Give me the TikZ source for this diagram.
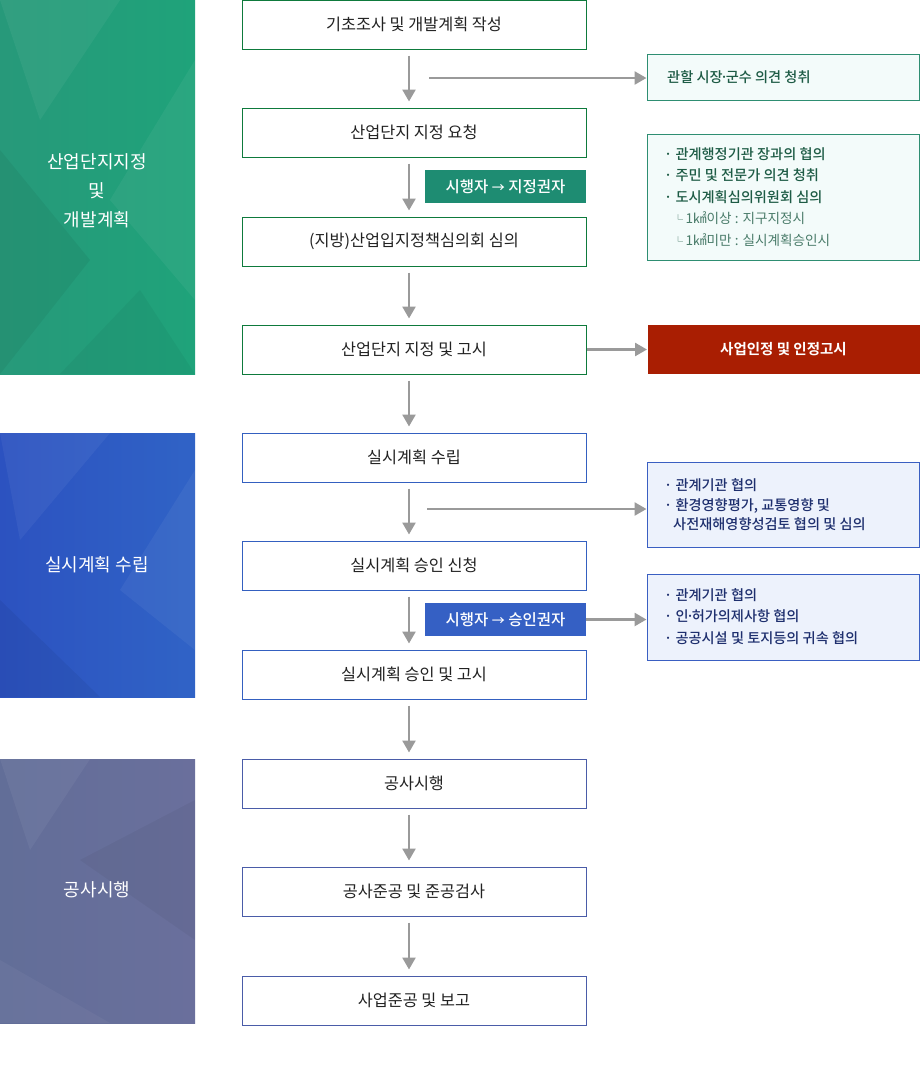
\documentclass[tikz,border=0pt]{standalone}
\usepackage{fontspec}
\setmainfont{Noto Sans CJK KR}[BoldFont={Noto Sans CJK KR Bold}]
\newfontfamily\medfont{Noto Sans CJK KR Medium}
\usetikzlibrary{arrows.meta,positioning}
\definecolor{gpanel}{HTML}{27997A}
\definecolor{gpanelB}{HTML}{1FA37A}
\definecolor{bpanel}{HTML}{3063C6}
\definecolor{bpanelB}{HTML}{2C52C0}
\definecolor{ppanel}{HTML}{6A6F9C}
\definecolor{ppanelB}{HTML}{626E98}
\definecolor{gborder}{HTML}{0E7A3C}
\definecolor{bborder}{HTML}{3460C0}
\definecolor{pborder}{HTML}{4A5CA8}
\definecolor{rgborder}{HTML}{2E8E72}
\definecolor{rgfill}{HTML}{F3FBFA}
\definecolor{rgtext}{HTML}{1D5B45}
\definecolor{rbborder}{HTML}{3A5FC2}
\definecolor{rbfill}{HTML}{EDF2FC}
\definecolor{rbtext}{HTML}{1E2F6E}
\definecolor{redfill}{HTML}{A91E02}
\definecolor{glabel}{HTML}{1E8C72}
\definecolor{blabel}{HTML}{3560C4}
\definecolor{arrgray}{HTML}{9A9A9A}
\definecolor{maintext}{HTML}{222222}
\newcommand{\mdot}{\kern-2.5pt·\kern-2.5pt}
\tikzset{
  mainbox/.style={draw, line width=1pt, fill=white, minimum width=344pt, minimum height=49pt, inner sep=0pt, text=maintext, font=\fontsize{16.3}{19}\selectfont},
  rbox/.style={line width=1pt, minimum width=272pt, inner sep=0pt},
  rgbox/.style={rbox, draw=rgborder, fill=rgfill, text=rgtext},
  rbbox/.style={rbox, draw=rbborder, fill=rbfill, text=rbtext},
  lblbox/.style={minimum width=161pt, minimum height=33pt, inner sep=0pt, text=white, font=\medfont\fontsize{15.5}{18}\selectfont},
  arr/.style={draw=arrgray, line width=2.6pt, -{Triangle[length=12pt,width=13pt]}},
  paneltext/.style={text=white, align=center, font=\fontsize{18}{29}\selectfont},
  rtext/.style={font=\medfont\fontsize{14.2}{21.5}\selectfont},
  subtext/.style={color=rgtext!80!white, font=\fontsize{13.6}{21.5}\selectfont},
}
\begin{document}
\begin{tikzpicture}[x=1pt,y=-1pt]
\useasboundingbox (0,0) rectangle (920,1069);
% ---------- left panels ----------
\shade[left color=gpanel, right color=gpanelB] (0,0) rectangle (195,374);
\fill[white,opacity=0.05] (0,0) -- (120,0) -- (40,120) -- cycle;
\fill[black,opacity=0.05] (0,150) -- (90,260) -- (0,374) -- cycle;
\fill[white,opacity=0.05] (195,60) -- (110,200) -- (195,300) -- cycle;
\fill[black,opacity=0.04] (60,374) -- (140,290) -- (195,374) -- cycle;
\shade[left color=bpanelB, right color=bpanel] (0,433) rectangle (195,697);
\fill[white,opacity=0.05] (0,433) -- (110,433) -- (20,540) -- cycle;
\fill[black,opacity=0.05] (0,600) -- (100,697) -- (0,697) -- cycle;
\fill[white,opacity=0.05] (195,470) -- (120,590) -- (195,650) -- cycle;
\shade[left color=ppanelB, right color=ppanel] (0,759) rectangle (195,1023);
\fill[white,opacity=0.05] (0,759) -- (90,759) -- (30,850) -- cycle;
\fill[black,opacity=0.04] (80,860) -- (195,800) -- (195,940) -- cycle;
\fill[white,opacity=0.04] (0,960) -- (110,1023) -- (0,1023) -- cycle;
\node[paneltext] (pg) at (97,191) {산업단지지정\\및\\개발계획};
\node[paneltext] (pb) at (97,565) {실시계획 수립};
\node[paneltext] (pp) at (97,890) {공사시행};
% ---------- main boxes ----------
\node[mainbox, draw=gborder] (b1) at (414,24.5) {기초조사 및 개발계획 작성};
\node[mainbox, draw=gborder] (b2) at (414,132.5) {산업단지 지정 요청};
\node[mainbox, draw=gborder] (b3) at (414,241.5) {(지방)산업입지정책심의회 심의};
\node[mainbox, draw=gborder] (b4) at (414,349.5) {산업단지 지정 및 고시};
\node[mainbox, draw=bborder] (b5) at (414,457.5) {실시계획 수립};
\node[mainbox, draw=bborder] (b6) at (414,565.5) {실시계획 승인 신청};
\node[mainbox, draw=bborder] (b7) at (414,674.5) {실시계획 승인 및 고시};
\node[mainbox, draw=pborder] (b8) at (414,783.5) {공사시행};
\node[mainbox, draw=pborder] (b9) at (414,891.5) {공사준공 및 준공검사};
\node[mainbox, draw=pborder] (b10) at (414,1000.5) {사업준공 및 보고};
% ---------- labels ----------
\node[lblbox, fill=glabel] (l1) at (505.5,186.5) {시행자 {\fontsize{13}{16}\selectfont→} 지정권자};
\node[lblbox, fill=blabel] (l2) at (505.5,619.5) {시행자 {\fontsize{13}{16}\selectfont→} 승인권자};
% ---------- right boxes ----------
\node[rgbox, minimum height=46pt] (r1) at (783,77) {};
\node[rtext, text=rgtext, anchor=west, inner sep=0pt] (r1t) at (667,77) {관할 시장\mdot 군수 의견 청취};
\node[rgbox, minimum height=126pt] (r2) at (783,197) {};
\node[rtext, text=rgtext, anchor=north west, align=left, inner sep=0pt] (r2t) at (664,147)
  {· 관계행정기관 장과의 협의\\· 주민 및 전문가 의견 청취\\· 도시계획심의위원회 심의\\
   \hspace*{9pt}{\normalfont\fontsize{10}{10}\selectfont\color{rgtext!80!white}└}\,{\normalfont\fontsize{13.6}{21.5}\selectfont\color{rgtext!80!white}1㎢이상 : 지구지정시}\\
   \hspace*{9pt}{\normalfont\fontsize{10}{10}\selectfont\color{rgtext!80!white}└}\,{\normalfont\fontsize{13.6}{21.5}\selectfont\color{rgtext!80!white}1㎢미만 : 실시계획승인시}};
\node[rbox, fill=redfill, minimum height=49pt, text=white, font=\bfseries\fontsize{14.5}{17}\selectfont] (red) at (783.5,349.5) {사업인정 및 인정고시};
\node[rbbox, minimum height=85pt] (r3) at (783,504.5) {};
\node[rtext, text=rbtext, anchor=north west, align=left, inner sep=0pt] (r3t) at (664,478)
  {· 관계기관 협의\\[-1.5pt]· 환경영향평가, 교통영향 및\\[-2.5pt]\hspace*{9pt}사전재해영향성검토 협의 및 심의};
\node[rbbox, minimum height=86pt] (r4) at (783,617) {};
\node[rtext, text=rbtext, anchor=north west, align=left, inner sep=0pt] (r4t) at (664,588)
  {· 관계기관 협의\\· 인\mdot 허가의제사항 협의\\· 공공시설 및 토지등의 귀속 협의};
% ---------- vertical arrows ----------
\foreach \a/\b in {b1/b2,b2/b3,b3/b4,b4/b5,b5/b6,b6/b7,b7/b8,b8/b9,b9/b10}{
  \draw[arr] ([xshift=-5pt,yshift=-6pt]\a.south) -- ([xshift=-5pt,yshift=6pt]\b.north);
}
% ---------- horizontal arrows ----------
\coordinate (h1) at (429,78);
\coordinate (h3) at (427,509);
\draw[arr] (h1) -- (h1 -| r1.west);
\draw[arr] (b4.east) -- (red.west);
\draw[arr] (h3) -- (h3 -| r3.west);
\draw[arr] (l2.east) -- (l2.east -| r4.west);
\end{tikzpicture}
\end{document}
